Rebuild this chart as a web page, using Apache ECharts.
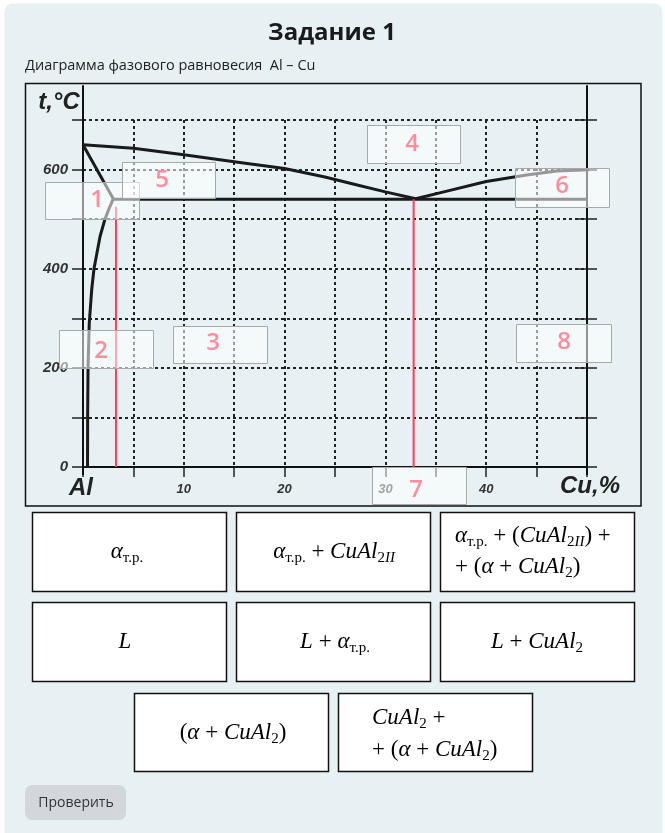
<!DOCTYPE html>
<html>
<head>
<meta charset="utf-8">
<script src="https://cdn.jsdelivr.net/npm/echarts@6/dist/echarts.min.js"></script>
<style>
html,body{margin:0;padding:0;background:#fff;}
#c{width:665px;height:833px;}
</style>
</head>
<body>
<div id="c"></div>
<script>
// ---- data (Cu %, t °C) ----
const liquidusLeft = [[0,650],[5,643],[10,630],[15,616],[20,602],[24,585],[27,570],[30,555],[33,541]];
const liquidusRight = [[33,541],[36,556],[40,576],[44,589],[47,597],[51.5,601]];
const solidus = [[0,650],[3.0,541]];
const eutecticLine = [[3.0,540],[50,540]];
const solvus = [[3.0,541],[2.6,522],[2.18,500],[1.69,465],[1.09,400],[0.86,357],[0.62,290],[0.5,200],[0.46,100],[0.45,0]];
const redLine1 = [[3.27,525],[3.27,0]];
const redLine2 = [[32.8,540],[32.8,0]];
const axisLeft = [[0,-16],[0,770]];
const axisRight = [[50,-16],[50,770]];
const axisBottom = [[-1,0],[51.3,0]];
const xLabelValues = [10,20,30,40];
const yLabelValues = [0,200,400,600];
const regionNumbers = ['1','2','3','4','5','6','7','8'];

const chart = echarts.init(document.getElementById('c'), null, {renderer:'canvas'});

const lineSeries = (data, color, width) => ({
  type:'line', data, symbol:'none', clip:false, silent:true, smooth:false,
  lineStyle:{color, width}, z:3
});

// label boxes [x,y,w,h, textX, textY]
const boxes = [
  [45,182,94,37,97,200],[59,330,94,38,101,351],[173,326,94,37,213,343],[367,125,93,38,412,144],
  [122,162,93,36,162,180],[515,168,94,39,562,186],[372,467,94,37,416,490],[516,324,95,38,564,342]
];

const rich = {
  m:{fontFamily:'Liberation Serif', fontStyle:'italic', fontSize:23, color:'#000', lineHeight:28, verticalAlign:'middle'},
  r:{fontFamily:'Liberation Serif', fontSize:23, color:'#000', lineHeight:28, verticalAlign:'middle'},
  s:{fontFamily:'Liberation Serif', fontSize:15, color:'#000', lineHeight:18, verticalAlign:'bottom'},
  si:{fontFamily:'Liberation Serif', fontStyle:'italic', fontSize:15, color:'#000', lineHeight:18, verticalAlign:'bottom'}
};

const ansBoxes = [
  [32,512,194,79],[236,512,194,79],[440,512,194,79],
  [32,602,194,79],[236,602,194,79],[440,602,194,79],
  [134,693,194,78],[338,693,194,78]
];
const formulas = [
  {x:127,y:552,align:'center',t:'{m|α}{s|т.р.}'},
  {x:334,y:552,align:'center',t:'{m|α}{s|т.р.}{r| + }{m|CuAl}{s|2}{si|II}'},
  {x:455,y:536,align:'left',t:'{m|α}{s|т.р.}{r| + (}{m|CuAl}{s|2}{si|II}{r|) +}'},
  {x:455,y:567,align:'left',t:'{r|+ (}{m|α}{r| + }{m|CuAl}{s|2}{r|)}'},
  {x:125,y:642,align:'center',t:'{m|L}'},
  {x:335,y:642,align:'center',t:'{m|L}{r| + }{m|α}{s|т.р.}'},
  {x:537,y:642,align:'center',t:'{m|L}{r| + }{m|CuAl}{s|2}'},
  {x:233,y:733,align:'center',t:'{r|(}{m|α}{r| + }{m|CuAl}{s|2}{r|)}'},
  {x:372,y:718,align:'left',t:'{m|CuAl}{s|2}{r| +}'},
  {x:372,y:750,align:'left',t:'{r|+ (}{m|α}{r| + }{m|CuAl}{s|2}{r|)}'}
];

const graphics = [
  {type:'rect', z:-20, shape:{x:4.5,y:3.5,width:658,height:840,r:8}, style:{fill:'#e7f1f4'}},
  {type:'rect', z:-10, shape:{x:25.5,y:83.5,width:615.5,height:422.5}, style:{fill:'none', stroke:'#111', lineWidth:1.5}},
  {type:'text', z:50, x:332, y:33, style:{text:'Задание 1', font:'bold 24px "Open Sans"', fill:'#1a1a1a', align:'center', verticalAlign:'middle'}},
  {type:'text', z:50, x:25, y:66, style:{text:'Диаграмма фазового равновесия  Al – Cu', font:'14.5px "Open Sans"', fill:'#222', align:'left', verticalAlign:'middle'}},
  {type:'text', z:50, x:59, y:102, style:{text:'t,°C', font:'italic bold 24px "Liberation Sans"', fill:'#222', align:'center', verticalAlign:'middle'}},
  {type:'text', z:50, x:81, y:488, style:{text:'Al', font:'italic bold 24px "Liberation Sans"', fill:'#222', align:'center', verticalAlign:'middle'}},
  {type:'text', z:50, x:590, y:486, style:{text:'Cu,%', font:'italic bold 24px "Liberation Sans"', fill:'#222', align:'center', verticalAlign:'middle'}}
];
boxes.forEach((b,i)=>{
  graphics.push({type:'rect', z:100, shape:{x:b[0]+0.5,y:b[1]+0.5,width:b[2],height:b[3]}, style:{fill:'rgba(255,255,255,0.55)', stroke:'#a8a8a8', lineWidth:1}});
  graphics.push({type:'text', z:101, x:b[4], y:b[5], style:{text:regionNumbers[i], font:'600 24px "Open Sans"', fill:'#ff8c9c', align:'center', verticalAlign:'middle'}});
});
ansBoxes.forEach(b=>{
  graphics.push({type:'rect', z:100, shape:{x:b[0]+0.5,y:b[1]+0.5,width:b[2],height:b[3]}, style:{fill:'#fff', stroke:'#111', lineWidth:1.5}});
});
formulas.forEach(f=>{
  graphics.push({type:'text', z:101, x:f.x, y:f.y, style:{text:f.t, rich, align:f.align, verticalAlign:'middle'}});
});
graphics.push({type:'rect', z:100, shape:{x:25,y:785,width:101,height:35,r:7}, style:{fill:'#d3d7db'}});
graphics.push({type:'text', z:101, x:76, y:803, style:{text:'Проверить', font:'14px "Open Sans"', fill:'#333', align:'center', verticalAlign:'middle'}});

const dashStyle = {type:[3,3], color:'#222', width:2};

chart.setOption({
  animation:false,
  backgroundColor:'#fff',
  grid:{left:83, right:78, top:120, bottom:366, containLabel:false},
  xAxis:[{
    type:'value', min:0, max:50, interval:5,
    axisLine:{show:false},
    axisTick:{show:true, length:10, lineStyle:{color:'#222', width:1.5}},
    axisLabel:{margin:16, fontStyle:'italic', fontWeight:'bold', fontSize:13, fontFamily:'Liberation Sans', color:'#333',
      formatter:v => xLabelValues.includes(v) ? String(v) : ''},
    splitLine:{show:true, lineStyle:dashStyle}
  }],
  yAxis:[{
    type:'value', min:0, max:700, interval:100, position:'left',
    axisLine:{show:false},
    axisTick:{show:true, length:11, lineStyle:{color:'#222', width:1.5}},
    axisLabel:{margin:15, fontStyle:'italic', fontWeight:'bold', fontSize:15, fontFamily:'Liberation Sans', color:'#333',
      formatter:v => yLabelValues.includes(v) ? String(v) : ''},
    splitLine:{show:true, lineStyle:dashStyle}
  },{
    type:'value', min:0, max:700, interval:100, position:'right', offset:-10,
    axisLine:{show:false},
    axisTick:{show:true, length:20, lineStyle:{color:'#222', width:1.5}},
    axisLabel:{show:false}, splitLine:{show:false}
  }],
  series:[
    lineSeries(axisLeft,'#111',2),
    lineSeries(axisRight,'#111',2),
    lineSeries(axisBottom,'#111',2),
    lineSeries(liquidusLeft,'#1a1a1a',3),
    lineSeries(liquidusRight,'#1a1a1a',3),
    lineSeries(solidus,'#1a1a1a',3),
    lineSeries(eutecticLine,'#1a1a1a',3),
    lineSeries(solvus,'#1a1a1a',3),
    lineSeries(redLine1,'#ff3b5c',2),
    lineSeries(redLine2,'#ff3b5c',2)
  ],
  graphic:{elements:graphics}
});
</script>
</body>
</html>
